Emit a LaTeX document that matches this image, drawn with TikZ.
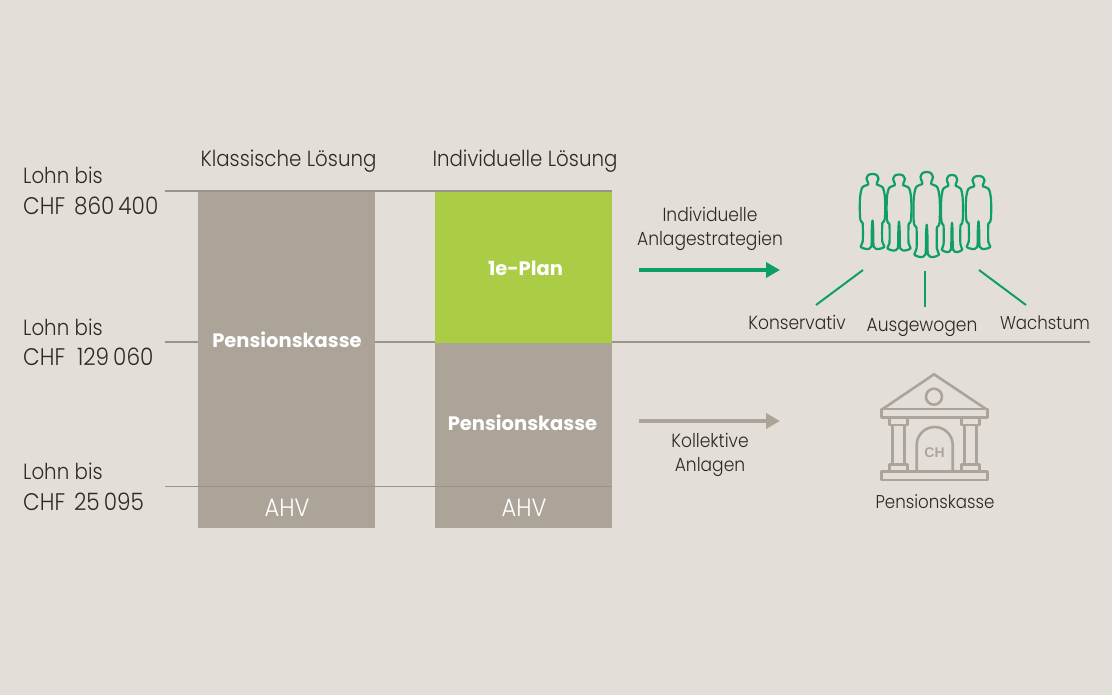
\documentclass[tikz,border=0pt]{standalone}
\usepackage{fontspec}
\setmainfont{Poppins Light}[FakeStretch=0.9]
\newfontfamily\boldf{Poppins Bold}
\newfontfamily\chf{Liberation Sans}[Scale=1]
\definecolor{bgc}{HTML}{E3DFD8}
\definecolor{barc}{HTML}{ACA499}
\definecolor{linec}{HTML}{9A9488}
\definecolor{limec}{HTML}{ABCD45}
\definecolor{greenc}{HTML}{0F9E63}
\definecolor{textc}{HTML}{2E2A22}
\tikzset{
  bar/.style={fill=barc,draw=none},
  rule/.style={draw=linec,line width=1.5pt},
  big/.style={anchor=base west,text=textc,font=\fontsize{22}{26}\selectfont,inner sep=0pt},
  amount/.style={big,font=\fontsize{24}{28}\selectfont},
  mid/.style={anchor=base,text=textc,font=\fontsize{19}{22}\selectfont,inner sep=0pt},
  barlab/.style={anchor=center,text=white,font=\boldf\fontsize{19.5}{22}\selectfont,inner sep=0pt},
  ahv/.style={anchor=center,text=white,font=\fontsize{25}{28}\selectfont,inner sep=0pt},
  flow/.style={line width=4pt,-{Triangle[length=14pt,width=15pt]}},
  spoke/.style={draw=greenc,line width=2pt},
  bank/.style={draw=barc,line width=2.6pt,line join=round},
}
\usetikzlibrary{arrows.meta}
\newcommand{\person}[4]{%
  \begin{scope}[shift={(#1,#2)},x=#3pt,y=-#4pt]
  \draw[greenc,line width=2.2pt,line join=round] plot[smooth cycle,tension=0.45] coordinates {
    (0,0) (.32,.012) (.48,.06) (.36,.115) (.34,.14) (.82,.18) (1,.32) (1,.58) (.88,.64) (.78,.66) (.78,.9) (.95,.97) (.5,1) (.1,.97) (.05,.72) (0,.62)
    (-.05,.72) (-.1,.97) (-.5,1) (-.95,.97) (-.78,.9) (-.78,.66) (-.88,.64) (-1,.58) (-1,.32) (-.82,.18) (-.34,.14) (-.36,.115) (-.48,.06) (-.32,.012)};
  \end{scope}}
\begin{document}
\begin{tikzpicture}[x=1pt,y=-1pt]
\useasboundingbox[fill=bgc] (0,0) rectangle (1112,695);
% rules behind bars
\coordinate (r1a) at (165,191); \coordinate (r1b) at (612,191);
\coordinate (r2a) at (165,342); \coordinate (r2b) at (1090,342);
\coordinate (r3a) at (165,486.5); \coordinate (r3b) at (612,486.5);
\draw[rule] (r1a) -- (r1b);
\draw[rule] (r2a) -- (r2b);
% bars
\node[bar,minimum width=177pt,minimum height=336pt,inner sep=0pt,anchor=north west] (klass) at (198,191.5) {};
\node[bar,fill=limec,minimum width=177pt,minimum height=151pt,inner sep=0pt,anchor=north west] (plan) at (435,191.5) {};
\node[bar,minimum width=177pt,minimum height=185pt,inner sep=0pt,anchor=north west] (pk) at (435,342.5) {};
\draw[rule] (r3a) -- (r3b);
% left labels
\node[big] (l1a) at (23,184) {Lohn bis};
\node[amount] (l1b) at (23,215) {CHF\hspace{3pt} 860\kern4pt 400};
\node[big] (l2a) at (23,335) {Lohn bis};
\node[amount] (l2b) at (23,366) {CHF\hspace{6pt} 129\kern4pt 060};
\node[big] (l3a) at (23,479) {Lohn bis};
\node[amount] (l3b) at (23,510) {CHF\hspace{3pt} 25\kern4pt 095};
% headers
\node[big,anchor=base] (h1) at (288.5,167) {Klassische Lösung};
\node[big,anchor=base] (h2) at (525,167) {Individuelle Lösung};
% bar labels
\node[barlab] (p1) at (287,340) {Pensionskasse};
\node[barlab] (e1) at (525.5,268.5) {1e-Plan};
\node[barlab] (p2) at (522.5,422.5) {Pensionskasse};
\node[ahv] (a1) at (287,508) {AHV};
\node[ahv] (a2) at (524,508) {AHV};
% arrows
\coordinate (g1) at (639,270); \coordinate (g2) at (780,270);
\coordinate (k1) at (639,421); \coordinate (k2) at (780,421);
\draw[flow,greenc] (g1) -- (g2);
\draw[flow,barc] (k1) -- (k2);
\node[mid] (t1) at (710,222) {Individuelle};
\node[mid] (t2) at (710,246) {Anlagestrategien};
\node[mid] (t3) at (710,447) {Kollektive};
\node[mid] (t4) at (710,471) {Anlagen};
% people
\person{872.5}{174}{12.5}{75}
\person{899}{174.5}{12.2}{76}
\person{926.7}{172}{13}{85}
\person{952}{175}{10.8}{77}
\person{978.5}{176}{12.5}{73}
% spokes
\coordinate (s1a) at (863,270); \coordinate (s1b) at (816,305);
\coordinate (s2a) at (925,271); \coordinate (s2b) at (925,307);
\coordinate (s3a) at (979,270); \coordinate (s3b) at (1026,305);
\draw[spoke] (s1a) -- (s1b);
\draw[spoke] (s2a) -- (s2b);
\draw[spoke] (s3a) -- (s3b);
\node[mid] (w1) at (797,330) {Konservativ};
\node[mid] (w2) at (922,331) {Ausgewogen};
\node[mid,font=\fontsize{18.5}{22}\selectfont] (w3) at (1045,330) {Wachstum};
% bank
\draw[bank] (882.7,409) -- (934,374.3) -- (986,409);
\draw[bank] (881.7,409) rectangle (987.3,417.7);
\draw[bank] (934,396.7) circle (8);
\foreach \cx in {898.3,970.5}{
  \draw[bank] (\cx-9,418) rectangle (\cx+9,425);
  \draw[bank] (\cx-6,425) rectangle (\cx+6,464.3);
  \draw[bank] (\cx-9,464.3) rectangle (\cx+9,471.7);
}
\draw[bank] (881.7,471.7) rectangle (987.3,480);
\draw[bank] (916.7,471.7) -- (916.7,445) arc[start angle=180,end angle=0,radius=18,y radius=-18] -- (952.7,471.7);
\node[anchor=center,text=barc,inner sep=0pt,font=\chf\bfseries\fontsize{14}{16}\selectfont] (ch) at (934.5,452.5) {CH};
\node[mid,font=\fontsize{18.5}{22}\selectfont] (w4) at (935,508) {Pensionskasse};
\end{tikzpicture}
\end{document}
